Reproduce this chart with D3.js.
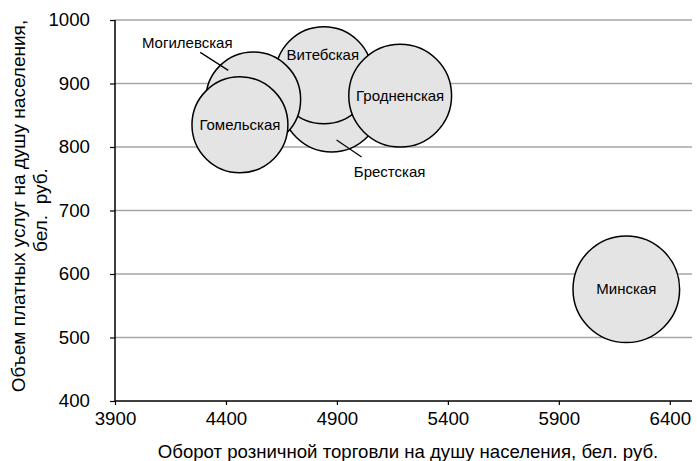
<!DOCTYPE html>
<html>
<head>
<meta charset="utf-8">
<script src="https://cdn.jsdelivr.net/npm/d3@7"></script>
<style>
  body { margin: 0; background: #fff; }
  text { font-family: "Liberation Sans", Arial, sans-serif; fill: #000; }
</style>
</head>
<body>
<script>
var W = 697, H = 461;

// data (drawing order: back to front)
var regions = ['Брестская', 'Витебская', 'Могилевская', 'Гомельская', 'Гродненская', 'Минская'];
var trade = [4876, 4841, 4523, 4463, 5185, 6204];     // оборот розничной торговли
var services = [871, 913, 875, 835, 881, 576];        // объем платных услуг
var sizes = [88, 83, 79, 81, 93, 100];                // относительный размер пузырька
var xTicks = [3900, 4400, 4900, 5400, 5900, 6400];
var yTicks = [400, 500, 600, 700, 800, 900, 1000];

// label placement (px offsets from bubble centre), leader lines for outside labels
var labelPos = {
  'Могилевская': {dx: -66, dy: -57, line: [[-53, -47], [-25, -29]]},
  'Брестская': {dx: 58, dy: 70, line: [[5, 38], [30, 55]]},
  'Витебская': {dx: -1, dy: -20}
};

var plotL = 115, plotR = 692, plotT = 20, plotB = 401;

var svg = d3.select('body').append('svg')
  .attr('width', W).attr('height', H);

var x = d3.scaleLinear().domain([3900, 6500]).range([plotL, plotR]);
var y = d3.scaleLinear().domain([400, 1000]).range([plotB, plotT]);
var r = d3.scaleSqrt().domain([0, 100]).range([0, 53.3]);

// grid
svg.append('g').selectAll('line')
  .data(yTicks.filter(function(d){ return d > 400; }))
  .enter().append('line')
  .attr('x1', plotL).attr('x2', plotR)
  .attr('y1', d => y(d)).attr('y2', d => y(d))
  .attr('stroke', '#a6a6a6').attr('stroke-width', 1.5);

// axes
var yAxis = d3.axisLeft(y).tickValues(yTicks).tickSize(5).tickPadding(20).tickFormat(d3.format('d'));
var xAxis = d3.axisBottom(x).tickValues(xTicks).tickSize(4).tickPadding(7).tickFormat(d3.format('d'));

var gy = svg.append('g').attr('transform', 'translate(' + plotL + ',0)').call(yAxis);
var gx = svg.append('g').attr('transform', 'translate(0,' + plotB + ')').call(xAxis);
[gx, gy].forEach(function(g){
  g.attr('font-size', 18.7).attr('font-family', '"Liberation Sans", Arial, sans-serif');
  g.select('.domain').attr('stroke', '#000').attr('stroke-width', 1.5);
  g.selectAll('.tick line').attr('stroke', '#000').attr('stroke-width', 1.2);
  g.selectAll('.tick text').attr('fill', '#000');
});
gx.select('.domain').attr('d', 'M' + plotL + ',0H' + plotR);
gy.select('.domain').attr('d', 'M0,' + plotB + 'V' + plotT);

// bubbles
var bubbles = regions.map(function(name, i){
  return {name: name, x: trade[i], y: services[i], s: sizes[i]};
});

var g = svg.append('g');
g.selectAll('circle')
  .data(bubbles)
  .enter().append('circle')
  .attr('cx', d => x(d.x))
  .attr('cy', d => y(d.y))
  .attr('r', d => r(d.s))
  .attr('fill', '#e4e4e4')
  .attr('stroke', '#000')
  .attr('stroke-width', 1.5);

// leader lines
bubbles.forEach(function(d){
  var p = labelPos[d.name];
  if (p && p.line) {
    svg.append('line')
      .attr('x1', x(d.x) + p.line[0][0]).attr('y1', y(d.y) + p.line[0][1])
      .attr('x2', x(d.x) + p.line[1][0]).attr('y2', y(d.y) + p.line[1][1])
      .attr('stroke', '#000').attr('stroke-width', 1.2);
  }
});

// labels
svg.append('g').selectAll('text')
  .data(bubbles)
  .enter().append('text')
  .attr('x', d => x(d.x) + (labelPos[d.name] ? labelPos[d.name].dx : 0))
  .attr('y', d => y(d.y) + (labelPos[d.name] ? labelPos[d.name].dy : 0))
  .attr('dy', '0.35em')
  .attr('text-anchor', 'middle')
  .attr('font-size', '15px')
  .text(d => d.name);

// axis titles
svg.append('text')
  .attr('x', 408)
  .attr('y', 458)
  .attr('text-anchor', 'middle')
  .attr('font-size', '18.6px')
  .text('Оборот розничной торговли на душу населения, бел. руб.');

var yt = svg.append('text')
  .attr('transform', 'translate(25,206) rotate(-90)')
  .attr('text-anchor', 'middle')
  .attr('font-size', '19px')
  .style('white-space', 'pre');
yt.append('tspan').attr('x', 0).attr('dy', 0).text('Объем платных услуг на душу населения,');
yt.append('tspan').attr('x', -4).attr('dy', 22).text('бел.  руб.');
</script>
</body>
</html>
